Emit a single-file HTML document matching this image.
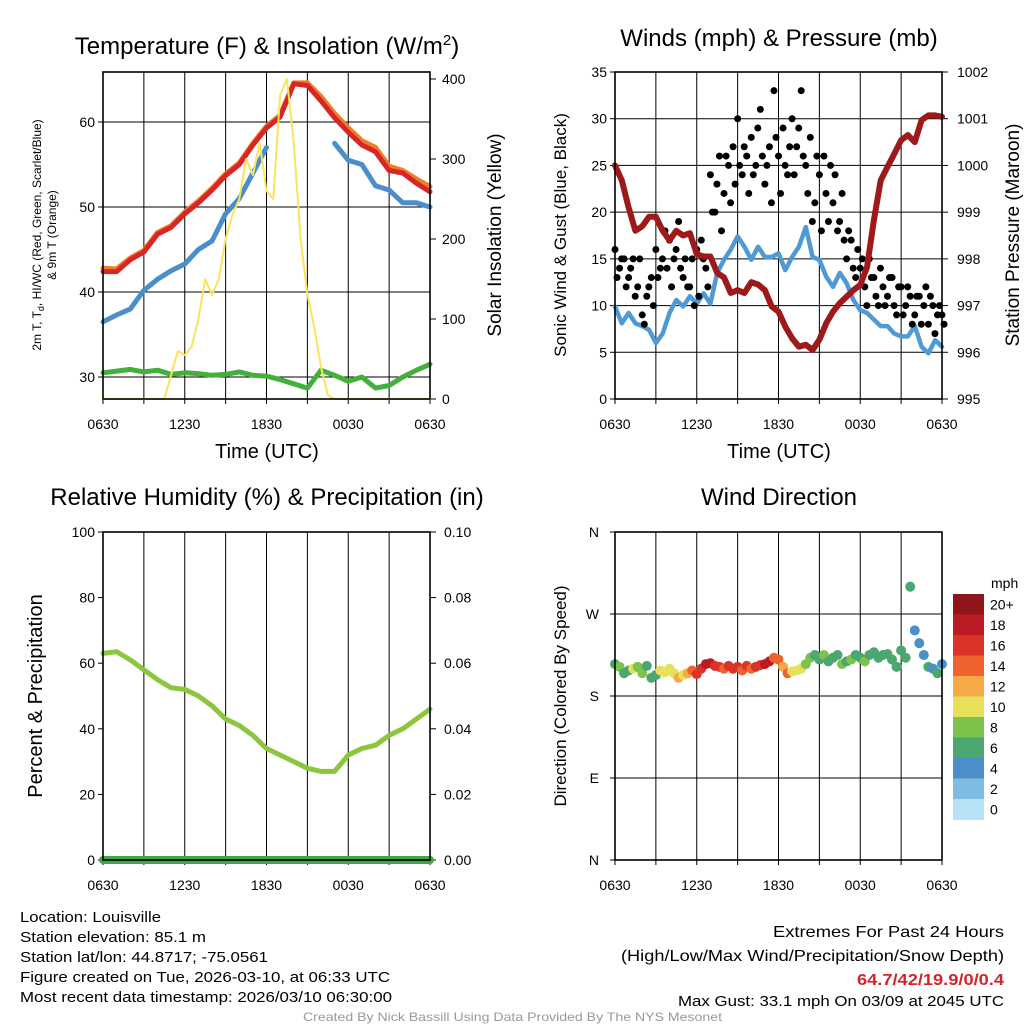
<!DOCTYPE html>
<html><head><meta charset="utf-8"><style>
body{margin:0;background:#fff;}
svg{display:block;font-family:"Liberation Sans",Arial,sans-serif;}
</style></head><body>
<svg id="fig" width="1024" height="1024" viewBox="0 0 1024 1024" xmlns="http://www.w3.org/2000/svg">
<rect width="1024" height="1024" fill="#fff"/>
<g id="g1"></g>
<g id="g2"></g>
<g id="g3"></g>
<g id="g4"></g>
<!-- titles -->
<text x="267" y="54" font-size="24" text-anchor="middle">Temperature (F) &amp; Insolation (W/m<tspan font-size="15" dy="-9">2</tspan><tspan dy="9">)</tspan></text>
<text x="779" y="46" font-size="24" text-anchor="middle">Winds (mph) &amp; Pressure (mb)</text>
<text x="267" y="505" font-size="24" text-anchor="middle">Relative Humidity (%) &amp; Precipitation (in)</text>
<text x="779" y="505" font-size="24" text-anchor="middle">Wind Direction</text>
<text x="267" y="458" font-size="20" text-anchor="middle">Time (UTC)</text>
<text x="779" y="458" font-size="20" text-anchor="middle">Time (UTC)</text>
<text font-size="12" text-anchor="middle" transform="translate(41,235) rotate(-90)">2m T, T<tspan font-size="9" dy="3">d</tspan><tspan dy="-3">, HI/WC (Red, Green, Scarlet/Blue)</tspan></text>
<text font-size="12" text-anchor="middle" transform="translate(56,235) rotate(-90)">&amp; 9m T (Orange)</text>
<text font-size="19" text-anchor="middle" transform="translate(501,235) rotate(-90)">Solar Insolation (Yellow)</text>
<text font-size="17" text-anchor="middle" transform="translate(566,235) rotate(-90)">Sonic Wind &amp; Gust (Blue, Black)</text>
<text font-size="19" text-anchor="middle" transform="translate(1019,235) rotate(-90)">Station Pressure (Maroon)</text>
<text font-size="20" text-anchor="middle" transform="translate(42,696) rotate(-90)">Percent &amp; Precipitation</text>
<text font-size="17" text-anchor="middle" transform="translate(566,696) rotate(-90)">Direction (Colored By Speed)</text>
<text x="991" y="588" font-size="14">mph</text>
<!-- footer -->
<g font-size="15">
<text x="20" y="922" textLength="141" lengthAdjust="spacingAndGlyphs">Location: Louisville</text>
<text x="20" y="942" textLength="186" lengthAdjust="spacingAndGlyphs">Station elevation: 85.1 m</text>
<text x="20" y="962" textLength="248" lengthAdjust="spacingAndGlyphs">Station lat/lon: 44.8717; -75.0561</text>
<text x="20" y="982" textLength="370" lengthAdjust="spacingAndGlyphs">Figure created on Tue, 2026-03-10, at 06:33 UTC</text>
<text x="20" y="1002" textLength="372" lengthAdjust="spacingAndGlyphs">Most recent data timestamp: 2026/03/10 06:30:00</text>
</g>
<g font-size="16">
<text x="773" y="937" textLength="231" lengthAdjust="spacingAndGlyphs">Extremes For Past 24 Hours</text>
<text x="621" y="961" textLength="383" lengthAdjust="spacingAndGlyphs">(High/Low/Max Wind/Precipitation/Snow Depth)</text>
<text x="857" y="985" font-weight="bold" fill="#d0262c" textLength="147" lengthAdjust="spacingAndGlyphs">64.7/42/19.9/0/0.4</text>
<text x="678" y="1006" font-size="15" textLength="326" lengthAdjust="spacingAndGlyphs">Max Gust: 33.1 mph On 03/09 at 2045 UTC</text>
</g>
<text x="303" y="1021" font-size="12" fill="#999" textLength="419" lengthAdjust="spacingAndGlyphs">Created By Nick Bassill Using Data Provided By The NYS Mesonet</text>
</svg>
<script>
// ---------- data ----------
const hourLabels = ["0630","1230","1830","0030","0630"];
const tempRed = [42.4,42.4,43.8,44.7,46.8,47.6,49.2,50.5,52,53.7,55,57.3,59.3,60.6,64.5,64.3,62.5,60.5,58.8,57.3,56.5,54.3,54,52.8,51.8];
const tempOrange = [42.8,42.7,44,44.9,47,47.8,49.4,50.7,52.2,53.9,55.2,57.5,59.5,60.8,64.6,64.6,63,61,59.3,57.8,57,54.8,54.3,53.3,52.4];
const dewBlue = [36.5,37.3,38,40.2,41.5,42.5,43.3,45,46,49.2,51,54,57,null,null,null,null,57.5,55.5,55,52.5,52,50.5,50.5,50];
const greenT = [30.5,30.7,30.9,30.6,30.8,30.3,30.5,30.4,30.2,30.3,30.6,30.2,30.1,29.7,29.2,28.7,30.8,30.2,29.5,30,28.7,29,30,30.8,31.5];
const insolation = [0,0,0,0,0,0,0,0,0,0,30,60,55,65,100,150,130,150,200,230,250,300,280,320,260,250,380,400,320,200,130,90,40,5,0,0,0,0,0,0,0,0,0,0,0,0,0,0,0];
const tempTicks = [30,40,50,60];
const insolTicks = [0,100,200,300,400];

const pressure = [1000.0,999.68,999.1,998.6,998.7,998.9,998.9,998.6,998.4,998.6,998.5,998.55,998.1,998.05,998.05,997.7,997.6,997.27,997.33,997.27,997.5,997.45,997.33,996.98,996.87,996.55,996.3,996.12,996.16,996.05,996.27,996.62,996.87,997.05,997.19,997.33,997.44,997.83,998.83,999.68,999.97,1000.25,1000.54,1000.65,1000.5,1000.97,1001.07,1001.07,1001.04];
const sonicWind = [9.9,8.1,9.2,8.1,7.8,7.4,6.0,7,9.2,10.6,9.9,11,10.2,11.3,10.2,13.5,14.9,16,17.4,16.3,14.9,16.3,15.2,15.2,15.6,13.8,15.2,16.3,18.4,15.2,14.9,13.1,12,13.5,12.4,10.6,9.5,9.2,8.5,7.8,7.8,7,6.7,6.7,7.8,5.6,4.9,6.3,5.6];
const gustA = [16,14,15,13,15,12,9,11,13,16,14,18,17,15,19,13,12,15,16,17,14,24,20,26,22,25,27,30,24,26,28,25,31,23,27,33,26,29,24,30,27,33,25,28,21,24,26,19,21,18,22,15,17,13,14,12,15,13,10,12,11,13,9,12,10,11,9,11,10,8,10,9,9];
const gustB = [13,15,12,14,11,15,8,12,10,13,15,14,12,16,14,15,12,10,11,15,12,20,23,18,26,21,23,25,27,22,24,29,26,25,21,28,22,25,27,24,29,26,22,19,26,18,22,25,24,19,17,18,14,16,15,10,13,11,14,10,13,10,12,9,12,8,11,8,12,11,7,10,8];
const windTicks = [0,5,10,15,20,25,30,35];
const pressTicks = [995,996,997,998,999,1000,1001,1002];

const humidity = [63,63.5,61,58,55,52.5,52,50,47,43,41,38,34,32,30,28,27,27,32,34,35,38,40,43,46];
const precip = [0,0,0,0,0,0,0,0,0,0,0,0,0,0,0,0,0,0,0,0,0,0,0,0,0];
const rhTicks = [0,20,40,60,80,100];
const precipTicks = ["0.00","0.02","0.04","0.06","0.08","0.10"];

const windDir = [215,212,205,208,210,212,205,213,200,203,208,206,210,205,200,203,205,208,204,210,215,216,213,212,210,213,210,212,208,213,210,212,214,215,218,222,220,212,205,207,208,210,215,222,225,220,225,218,222,225,215,218,220,225,222,218,225,228,222,225,226,220,212,230,222,300,252,238,225,212,210,205,215];
const windSpd = [7,8,7,7,10,9,8,7,6,6,10,10,10,11,12,10,12,15,16,16,18,19,17,16,15,17,16,17,14,16,15,17,17,18,19,15,14,13,14,11,10,10,8,8,7,6,8,6,6,6,8,7,8,6,7,8,6,6,7,6,7,6,7,6,7,6,4,4,5,6,5,6,4];
const dirLabels = ["N","E","S","W","N"];
const speedBins = ["0","2","4","6","8","10","12","14","16","18","20+"];
const binColors = ["#b6e3f8","#80bbe4","#4a8fc7","#4aa76f","#7dc24b","#e6e05a","#f5aa47","#ef6230","#dc3328","#bb1c24","#8e1519"];

// ---------- helpers ----------
const NS="http://www.w3.org/2000/svg";
function mk(parent,tag,attrs,name){
  const el=document.createElementNS(NS,tag);
  for(const k in attrs) el.setAttribute(k,attrs[k]);
  
  
  parent.appendChild(el);
  return el;
}
function txt(parent,x,y,s,size,anchor,name){
  const t=mk(parent,'text',{x:x,y:y,'font-size':size,'text-anchor':anchor||'middle'},name);
  t.textContent=s;
  return t;
}
function panel(g,L,R,T,B){
  const xs=h=>L+(R-L)*h/24;
  for(let i=0;i<=8;i++){
    const x=xs(i*3);
    mk(g,'line',{x1:x,y1:T,x2:x,y2:B,stroke:'#000','stroke-width':1},'vertical-gridline');
    mk(g,'line',{x1:x,y1:B,x2:x,y2:B+5,stroke:'#000','stroke-width':1},'x-tick');
  }
  hourLabels.forEach((s,i)=>txt(g,xs(i*6),B+30,s,14,'middle','x-tick-label'));
  return xs;
}
function frame(g,L,R,T,B){
  mk(g,'rect',{x:L,y:T,width:R-L,height:B-T,fill:'none',stroke:'#000','stroke-width':1.6},'plot-frame');
}
function poly(g,xs,ys,vals,color,w,name,step){
  let seg=[];
  const flush=()=>{ if(seg.length>1) mk(g,'polyline',{points:seg.join(' '),fill:'none',stroke:color,'stroke-width':w,'stroke-linejoin':'round','stroke-linecap':'round'},name); seg=[]; };
  vals.forEach((v,i)=>{ if(v===null){flush();return;} seg.push(xs(i*step).toFixed(1)+','+ys(v).toFixed(1)); });
  flush();
}

// ---------- panel 1 ----------
(function(){
  const g=document.getElementById('g1');
  const L=103,R=430,T=72,B=399;
  const xs=panel(g,L,R,T,B);
  const yT=v=>377-(v-30)*8.5;
  const yI=v=>399-v*0.8;
  tempTicks.forEach(v=>{
    mk(g,'line',{x1:L,y1:yT(v),x2:R,y2:yT(v),stroke:'#000','stroke-width':1},'horizontal-gridline');
    mk(g,'line',{x1:L-5,y1:yT(v),x2:L,y2:yT(v),stroke:'#000'},'y-tick');
    txt(g,L-8,yT(v)+5,String(v),14,'end','y-tick-label');
  });
  insolTicks.forEach(v=>{
    mk(g,'line',{x1:R,y1:yI(v),x2:R+6,y2:yI(v),stroke:'#000'},'right-tick');
    txt(g,R+12,yI(v)+5,String(v),14,'start','right-tick-label');
  });
  poly(g,xs,yT,greenT,'#44b03c',5,'green-series',1);
  poly(g,xs,yT,dewBlue,'#4a8fca',5,'blue-series',1);
  poly(g,xs,yT,tempOrange,'#f07d28',5,'orange-series',1);
  poly(g,xs,yT,tempRed,'#d62626',5,'red-series',1);
  poly(g,xs,yI,insolation,'#fbe35a',2,'insolation-series',0.5);
  frame(g,L,R,T,B);
})();

// ---------- panel 2 ----------
(function(){
  const g=document.getElementById('g2');
  const L=615,R=942,T=72,B=399;
  const xs=panel(g,L,R,T,B);
  const yW=v=>399-v*(327/35);
  const yP=v=>399-(v-995)*(327/7);
  windTicks.forEach(v=>{
    mk(g,'line',{x1:L,y1:yW(v),x2:R,y2:yW(v),stroke:'#000','stroke-width':1},'horizontal-gridline');
    mk(g,'line',{x1:L-5,y1:yW(v),x2:L,y2:yW(v),stroke:'#000'},'y-tick');
    txt(g,L-8,yW(v)+5,String(v),14,'end','y-tick-label');
  });
  pressTicks.forEach(v=>{
    mk(g,'line',{x1:R,y1:yP(v),x2:R+6,y2:yP(v),stroke:'#000'},'right-tick');
    txt(g,R+15,yP(v)+5,String(v),14,'start','right-tick-label');
  });
  poly(g,xs,yW,sonicWind,'#4f9ad5',4.5,'sonic-wind-series',0.5);
  gustA.forEach((v,i)=>{
    const c=mk(g,'circle',{cx:xs(i/3),cy:yW(v),r:3.5,fill:'#000'},'gust-point');
  });
  gustB.forEach((v,i)=>{
    const c=mk(g,'circle',{cx:xs(i/3+0.15),cy:yW(v),r:3.5,fill:'#000'},'gust-point');
  });
  poly(g,xs,yP,pressure,'#9e1a1a',6,'pressure-series',0.5);
  frame(g,L,R,T,B);
})();

// ---------- panel 3 ----------
(function(){
  const g=document.getElementById('g3');
  const L=103,R=430,T=532,B=860;
  const xs=panel(g,L,R,T,B);
  const yR=v=>860-v*3.28;
  rhTicks.forEach((v,i)=>{
    mk(g,'line',{x1:L-5,y1:yR(v),x2:L,y2:yR(v),stroke:'#000'},'y-tick');
    txt(g,L-8,yR(v)+5,String(v),14,'end','y-tick-label');
    mk(g,'line',{x1:R,y1:yR(v),x2:R+6,y2:yR(v),stroke:'#000'},'right-tick');
    txt(g,R+14,yR(v)+5,precipTicks[i],14,'start','right-tick-label');
  });
  poly(g,xs,yR,humidity,'#8cc63f',5,'humidity-series',1);
  const yPr=v=>860-v*3280;
  poly(g,xs,yPr,precip,'#3fa548',8,'precip-series',1);
  frame(g,L,R,T,B);
})();

// ---------- panel 4 ----------
(function(){
  const g=document.getElementById('g4');
  const L=615,R=942,T=532,B=860;
  const xs=panel(g,L,R,T,B);
  const yD=v=>860-v*(328/360);
  dirLabels.forEach((s,i)=>{
    const v=i*90;
    if(i>0&&i<4) mk(g,'line',{x1:L,y1:yD(v),x2:R,y2:yD(v),stroke:'#000','stroke-width':1},'horizontal-gridline');
    mk(g,'line',{x1:L-5,y1:yD(v),x2:L,y2:yD(v),stroke:'#000'},'y-tick');
    txt(g,L-16,yD(v)+5,s,14,'end','y-tick-label');
  });
  windDir.forEach((d,i)=>{
    const bin=Math.min(10,Math.floor(windSpd[i]/2));
    const c=mk(g,'circle',{cx:xs(i/3),cy:yD(d),r:5,fill:binColors[bin]},'direction-point');
  });
  frame(g,L,R,T,B);
  // colorbar
  const cbT=594,cbH=20.5;
  for(let k=0;k<11;k++){
    const idx=10-k;
    mk(g,'rect',{x:953,y:cbT+k*cbH,width:31,height:cbH+0.5,fill:binColors[idx]},'colorbar-box');
    txt(g,990,cbT+k*cbH+cbH/2+5,speedBins[idx],14,'start','colorbar-label');
  }
})();
</script>
</body></html>
